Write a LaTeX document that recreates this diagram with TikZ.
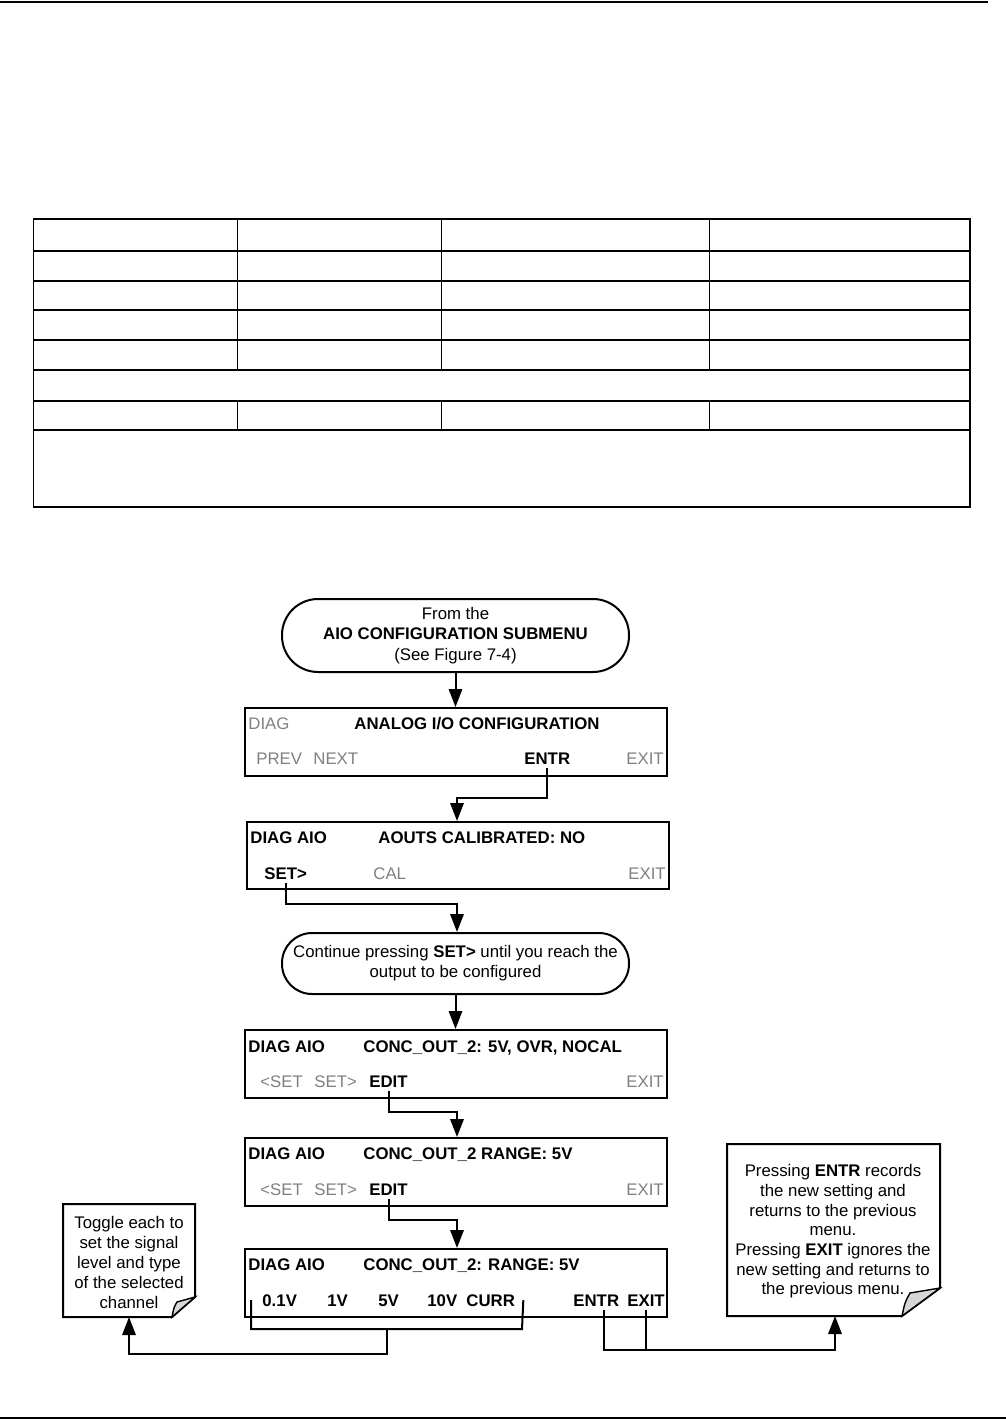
\documentclass[tikz,border=0pt]{standalone}
\usepackage{fontspec}
\setmainfont{Liberation Sans}
\usetikzlibrary{arrows.meta}
\definecolor{txtgray}{RGB}{128,128,128}
\definecolor{flapgray}{RGB}{215,215,215}
\begin{document}
\begin{tikzpicture}[x=0.5pt,y=-0.5pt,
  basefont/.style={font=\fontsize{8.4pt}{10pt}\selectfont},
  lbl/.style={inner sep=0pt, outer ysep=2pt, anchor=base west, basefont},
  key/.style={lbl, font=\fontsize{8.4pt}{10pt}\selectfont\bfseries},
  dim/.style={lbl, text=txtgray},
  screen/.style={draw, line width=1pt, minimum width=211pt, minimum height=34pt, inner sep=0pt},
  term/.style={draw, line width=1pt, minimum width=173.5pt, align=center, inner sep=0pt},
  notetext/.style={inner sep=0pt, align=center},
  conn/.style={line width=1pt},
  arr/.style={conn, -{Triangle[length=9pt,width=6.7pt]}},
  note/.style={draw, line width=1pt, fill=white, line join=miter},
  flap/.style={draw, line width=0.7pt, fill=flapgray},
  tline/.style={line width=0.9pt},
  tthin/.style={line width=0.5pt},
  rule/.style={line width=1pt}
]
\useasboundingbox (0,0) rectangle (1006,1419);

% page rules
\draw[rule] (0,1.5) -- (988,1.5);
\draw[rule] (0,1418) -- (1006,1418);

% empty table
\draw[tline] (33.5,219) rectangle (970,507);
\foreach \yy in {251,281,310,340,370,401,430}
  \draw[tline] (33.5,\yy) -- (970,\yy);
\foreach \xx in {237,441,709} {
  \draw[tthin] (\xx,219) -- (\xx,370);
  \draw[tthin] (\xx,401) -- (\xx,430);
}

% start terminal
\node[term, minimum height=36.5pt, rounded corners=18pt,
      font=\fontsize{8.4pt}{10.25pt}\selectfont] (start) at (455.5,635.5)
  {From the\\\textbf{AIO CONFIGURATION SUBMENU}\\(See Figure 7-4)};

% screen 1
\node[screen] (box1) at (456,742) {};
\node[dim] (diag1) at (248,729) {DIAG};
\node[key] (title1) at (354,729) {ANALOG I/O CONFIGURATION};
\node[dim] (prev1) at (256,764) {PREV};
\node[dim] (next1) at (313,764) {NEXT};
\node[key] (entr1) at (524,764) {ENTR};
\node[dim] (exit1) at (626,764) {EXIT};

% screen 2
\node[screen, minimum height=33.5pt] (box2) at (457.5,855.5) {};
\node[key] (diag2) at (250,843) {DIAG AIO};
\node[key] (title2) at (378,843) {AOUTS CALIBRATED: NO};
\node[key] (set2) at (264,879) {SET>};
\node[dim] (cal2) at (373,879) {CAL};
\node[dim] (exit2) at (628,879) {EXIT};

% continue terminal
\node[term, minimum height=30.5pt, rounded corners=15pt, basefont] (cont) at (455.5,963.5)
  {Continue pressing \textbf{SET>} until you reach the\\output to be configured};

% screen 3
\node[screen] (box3) at (456,1064) {};
\node[key] (diag3) at (248,1052) {DIAG AIO};
\node[key] (title3) at (363,1052) {CONC\_OUT\_2: 5V, OVR, NOCAL};
\node[dim] (lset3) at (260,1087) {<SET};
\node[dim] (rset3) at (314,1087) {SET>};
\node[key] (edit3) at (369,1087) {EDIT};
\node[dim] (exit3) at (626,1087) {EXIT};

% screen 4
\node[screen] (box4) at (456,1172) {};
\node[key] (diag4) at (248,1159) {DIAG AIO};
\node[key] (title4) at (363,1159) {CONC\_OUT\_2 RANGE: 5V};
\node[dim] (lset4) at (260,1195) {<SET};
\node[dim] (rset4) at (314,1195) {SET>};
\node[key] (edit4) at (369,1195) {EDIT};
\node[dim] (exit4) at (626,1195) {EXIT};

% screen 5
\node[screen] (box5) at (456,1283) {};
\node[key] (diag5) at (248,1270) {DIAG AIO};
\node[key] (title5) at (363,1270) {CONC\_OUT\_2: RANGE: 5V};
\node[key] (v01) at (262,1306) {0.1V};
\node[key] (v1) at (327,1306) {1V};
\node[key] (v5) at (378,1306) {5V};
\node[key] (v10) at (427,1306) {10V};
\node[key] (curr) at (466,1306) {CURR};
\node[key] (entr5) at (573,1306) {ENTR};
\node[key] (exit5) at (627,1306) {EXIT};

% left note
\draw[note] (63,1204) -- (195,1204) -- (195,1297) -- (172,1317) -- (63,1317) -- cycle;
\draw[flap] (172,1317) .. controls (174,1307) .. (177,1302) -- (195,1297) -- cycle;
\node[notetext, basefont] (noteLtxt) at (129,1262)
  {Toggle each to\\set the signal\\level and type\\of the selected\\channel};
\coordinate (noteL) at (129,1317);

% right note
\draw[note] (727,1144) -- (940,1144) -- (940,1288) -- (902,1316) -- (727,1316) -- cycle;
\draw[flap] (902,1316) .. controls (905,1302) .. (910,1293) -- (940,1288) -- cycle;
\node[notetext, font=\fontsize{8.4pt}{9.85pt}\selectfont] (noteRtxt) at (833,1231.5)
  {Pressing \textbf{ENTR} records\\the new setting and\\returns to the previous\\menu.\\Pressing \textbf{EXIT} ignores the\\new setting and returns to\\the previous menu.};
\coordinate (noteR) at (835,1316);

% bend points
\coordinate (j1) at (457,798);
\coordinate (j2) at (457,904);
\coordinate (j3) at (457,1112);
\coordinate (j4) at (457,1220);
\coordinate (brkL) at (251,1329);
\coordinate (brkR) at (522,1329);
\coordinate (brkM) at (387,1329);
\coordinate (jL) at (129,1354);
\coordinate (jR) at (835,1350);

% connectors
\draw[arr] (start.south) -- (start.south |- box1.north);
\draw[arr] (entr1.south) |- (j1) -- (j1 |- box2.north);
\draw[arr] (set2.south) |- (j2) -- (j2 |- cont.north);
\draw[arr] (cont.south) -- (cont.south |- box3.north);
\draw[arr] (edit3.south) |- (j3) -- (j3 |- box4.north);
\draw[arr] (edit4.south) |- (j4) -- (j4 |- box5.north);
\draw[conn] ([xshift=-5.5pt]v01.west) -- (brkL) -- (brkR) -- ([xshift=4pt]curr.east);
\draw[arr] (brkM) |- (jL) -- (noteL);
\draw[arr] ([xshift=4pt]entr5.south) |- (jR) -- (noteR);
\draw[conn] (exit5.south) -- (exit5.south |- jR);
\end{tikzpicture}
\end{document}
